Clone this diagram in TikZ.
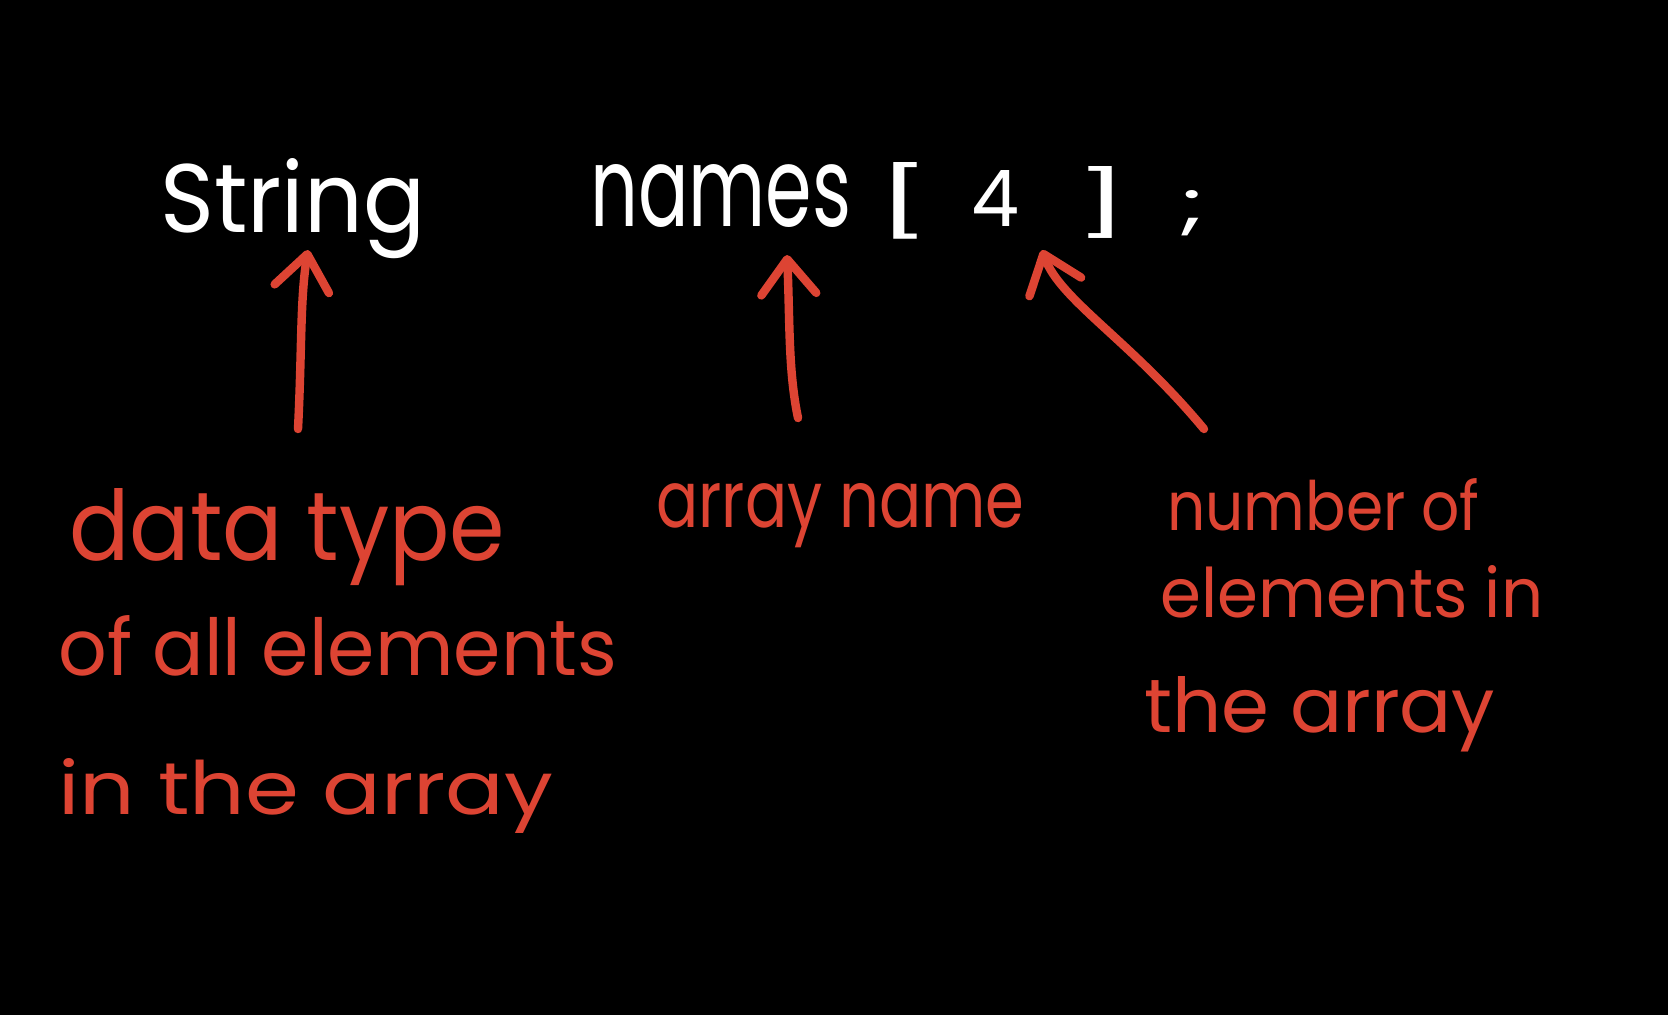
\documentclass[tikz,border=0pt]{standalone}
\usepackage{fontspec}
\setmainfont{Poppins}
\usetikzlibrary{arrows.meta}
\definecolor{inkred}{HTML}{DD4433}
\newlength\unitu
\setlength\unitu{0.02cm}
\newcommand\fitto[3]{\resizebox{#1\unitu}{#2\unitu}{#3}}
\begin{document}
\begin{tikzpicture}[x=0.02cm,y=-0.02cm,
  code/.style={anchor=base west,inner sep=0pt,text=white,font=\fontsize{50}{52}\selectfont},
  note/.style={anchor=base west,inner sep=0pt,text=inkred,font=\fontsize{50}{52}\selectfont},
  redarrow/.style={draw=inkred,line width=4.8pt,line cap=round,
    -{Straight Barb[length=0.7cm,width=1.1cm,line cap=round,line join=round]}}]
\fill[black] (0,0) rectangle (1668,1015);
\useasboundingbox (0,0) rectangle (1668,1015);
% code line
\node[code] (str) at (160,232) {\fitto{265}{74}{String}};
\node[code] (nam) at (590,226) {\fitto{261}{62}{names}\kern25\unitu\fitto{55}{64}{[}\kern40\unitu\fitto{48}{56}{4}\kern55\unitu\fitto{55}{60}{]}\kern50\unitu\fitto{26}{36}{;}};
% labels
\node[note] (dt1) at (69,560) {\fitto{436}{72}{data type}};
\node[note] (dt2) at (58,675) {\fitto{559}{60}{of all elements}};
\node[note] (dt3) at (58,814) {\fitto{495}{56}{in the array}};
\node[note] (an) at (656,527) {\fitto{368}{44}{array name}};
\node[note] (ne1) at (1167,530) {\fitto{312}{52}{number of}};
\node[note] (ne2) at (1160,617) {\fitto{383}{52}{elements in}};
\node[note] (ne3) at (1144,732) {\fitto{351}{56}{the array}};
% arrow anchors
\coordinate (a1s) at (298,429);
\coordinate (a1e) at (308,250);
\coordinate (a2s) at (798,418);
\coordinate (a2e) at (787,255);
\coordinate (a3s) at (1204,429);
\coordinate (a3e) at (1042,250);
\draw[redarrow] (a1s) .. controls (302,350) and (300,300) .. (a1e);
\draw[redarrow] (a2s) .. controls (788,370) and (790,320) .. (a2e);
\draw[redarrow] (a3s) .. controls (1130,340) and (1060,300) .. (a3e);
\end{tikzpicture}
\end{document}
